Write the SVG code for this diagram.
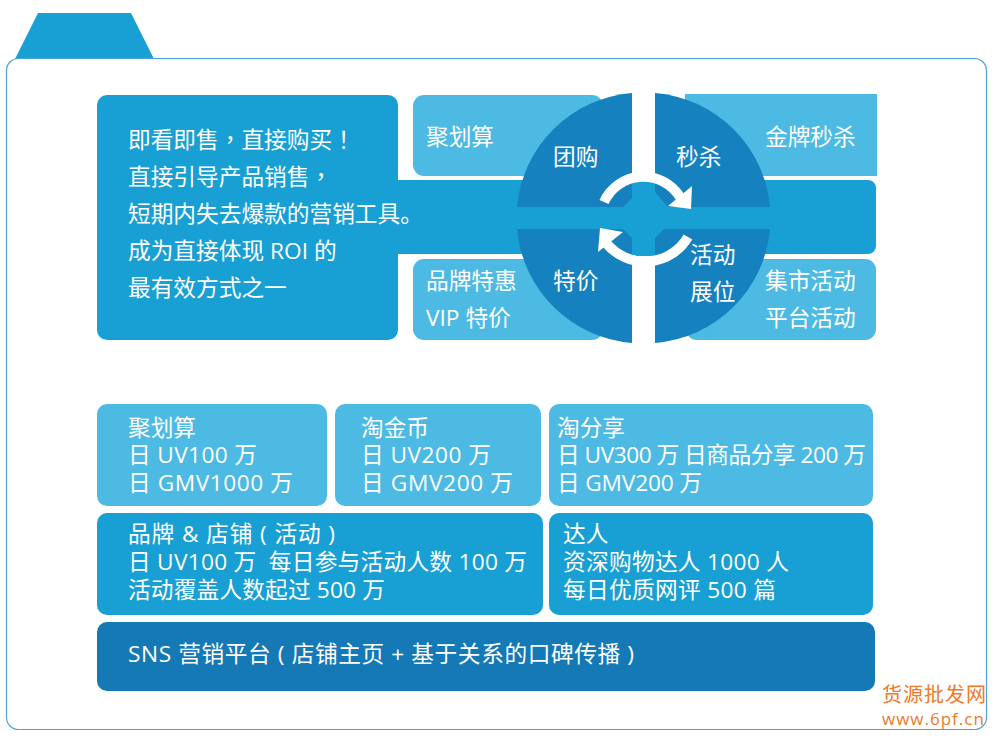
<svg xmlns="http://www.w3.org/2000/svg" width="996" height="740" viewBox="0 0 996 740">
<style>
text{font-family:"Open Sans","Noto Sans CJK SC",sans-serif;font-size:22.700px;font-weight:400;fill:#fff;white-space:pre}
.p{font-family:"Noto Sans CJK TC",sans-serif}
.mid{fill:#189fd3}.light{fill:#4cbae3}.dark{fill:#1581bf}
.wm{fill:#ee7a2a;font-weight:400}
</style>
<rect width="996" height="740" fill="#fff"/>
<g id="frame">
<polygon points="38,13 131,13 154,59 15,59" fill="#189fd3"/>
<rect x="6.500" y="58.500" width="980" height="671" rx="12" fill="#fff" stroke="#4aa5d6" stroke-width="1.200"/>
</g>
<g id="connectors"></g>
<g id="top-boxes">
<rect class="light" x="413" y="95" width="190" height="81" rx="11"/>
<path class="light" d="M685,94H877V176H685Z"/>
<rect class="light" x="413" y="259" width="190" height="81" rx="11"/>
<rect class="light" x="686" y="259" width="190" height="81" rx="11"/>
</g>
<g id="intro">
<path class="mid" d="M107,95H388a10,10 0 0 1 10,10V180H868a8,8 0 0 1 8,8V246a8,8 0 0 1 -8,8H398V330a10,10 0 0 1 -10,10H107a10,10 0 0 1 -10,-10V105a10,10 0 0 1 10,-10Z"/>
<text x="128" y="148">即看即售<tspan class="p">，</tspan>直接购买<tspan class="p">！</tspan></text>
<text x="128" y="185">直接引导产品销售<tspan class="p">，</tspan></text>
<text x="128" y="222">短期内失去爆款的营销工具。</text>
<text x="128" y="259">成为直接体现 ROI 的</text>
<text x="128" y="296">最有效方式之一</text>
<text x="426" y="145">聚划算</text>
<text x="765" y="145">金牌秒杀</text>
<text x="426" y="289">品牌特惠</text>
<text x="426" y="326">VIP 特价</text>
<text x="765" y="289">集市活动</text>
<text x="765" y="326">平台活动</text>
</g>
<g id="wheel">
<path class="dark" d="M632,93A125.500,125.500 0 0 0 517,207H623L632,198Z"/>
<path class="dark" d="M655,93A125.500,125.500 0 0 1 770,207H668L655,192Z"/>
<path class="dark" d="M632,343A125.500,125.500 0 0 1 517,229H623L632,238Z"/>
<path class="dark" d="M655,343A125.500,125.500 0 0 0 770,229H664L655,238Z"/>
<rect class="mid" x="632" y="180" width="23" height="76"/>
<path d="M604,202A43.300,43.300 0 0 1 680,197" fill="none" stroke="#fff" stroke-width="10"/>
<polygon points="692,186 691,209 668,206" fill="#fff"/>
<path d="M688,237A50,50 0 0 1 607,244" fill="none" stroke="#fff" stroke-width="10"/>
<polygon points="598,252 600,228 623,232" fill="#fff"/>
<text x="553" y="165">团购</text>
<text x="676" y="165">秒杀</text>
<text x="553" y="289">特价</text>
<text x="690" y="263">活动</text>
<text x="690" y="300">展位</text>
</g>
<g id="stats">
<rect class="light" x="97" y="404" width="230" height="102" rx="10"/>
<rect class="light" x="335" y="404" width="206" height="102" rx="10"/>
<rect class="light" x="549" y="404" width="324" height="102" rx="10"/>
<rect class="mid" x="97" y="513" width="446" height="102" rx="10"/>
<rect class="mid" x="549" y="513" width="324" height="102" rx="10"/>
<rect x="97" y="622" width="778" height="69" rx="10" fill="#1479b5"/>
<text x="128" y="436">聚划算</text>
<text x="128" y="463" textLength="129">日 UV100 万</text>
<text x="128" y="491" textLength="165">日 GMV1000 万</text>
<text x="361" y="436">淘金币</text>
<text x="361" y="463" textLength="130">日 UV200 万</text>
<text x="361" y="491" textLength="152">日 GMV200 万</text>
<text x="557" y="436">淘分享</text>
<text x="557" y="463" textLength="309">日 UV300 万 日商品分享 200 万</text>
<text x="557" y="491" textLength="145">日 GMV200 万</text>
<text x="128" y="542" textLength="207">品牌 &amp; 店铺 ( 活动 )</text>
<text x="128" y="570" textLength="399">日 UV100 万  每日参与活动人数 100 万</text>
<text x="128" y="598" textLength="257">活动覆盖人数起过 500 万</text>
<text x="563" y="542">达人</text>
<text x="563" y="570" textLength="226">资深购物达人 1000 人</text>
<text x="563" y="598" textLength="213">每日优质网评 500 篇</text>
<text x="128" y="662" textLength="506">SNS 营销平台 ( 店铺主页 + 基于关系的口碑传播 )</text>
</g>
<g id="watermark">
<text class="wm" x="882" y="702" style="font-size:20px;letter-spacing:1px">货源批发网</text>
<text class="wm" x="882" y="725" style="font-size:17px;letter-spacing:1px">www.6pf.cn</text>
</g>
</svg>
